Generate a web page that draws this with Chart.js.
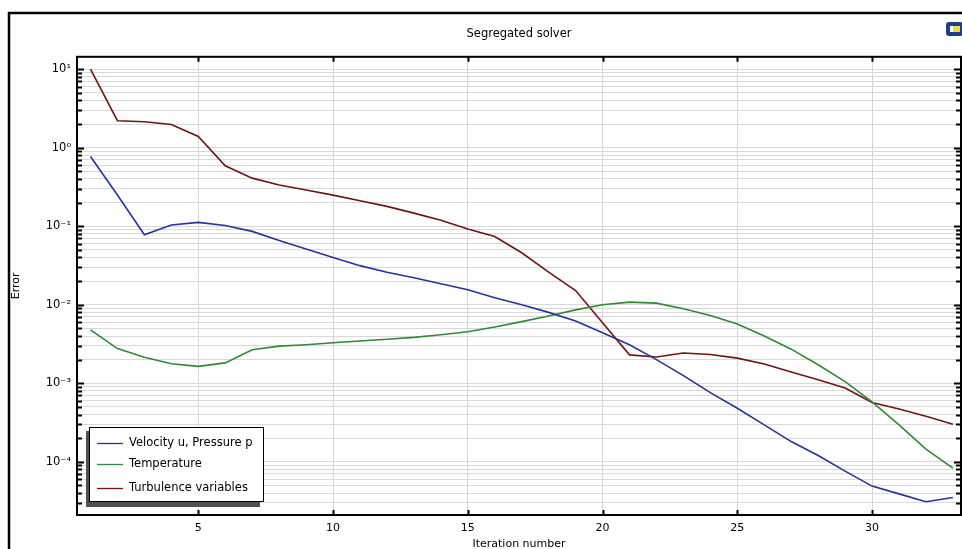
<!DOCTYPE html>
<html>
<head>
<meta charset="utf-8">
<script src="https://cdn.jsdelivr.net/npm/chart.js@4.4.1/dist/chart.umd.min.js"></script>
<style>
  html, body { margin: 0; padding: 0; background: #fff; }
  #wrap { width: 962px; height: 549px; }
</style>
</head>
<body>
<div id="wrap"><canvas id="grafico" width="962" height="549"></canvas></div>
<script>
// iteration numbers along x
const iteracoes = [1, 2, 3, 4, 5, 6, 7, 8, 9, 10, 11, 12, 13, 14, 15, 16, 17,
  18, 19, 20, 21, 22, 23, 24, 25, 26, 27, 28, 29, 30, 31, 32, 33];

// error per iteration for each field group
const velocidade = [0.775, 0.25, 0.078, 0.104, 0.112, 0.102, 0.086, 0.066, 0.0514,
  0.040, 0.0315, 0.026, 0.0221, 0.0185, 0.0155, 0.0123, 0.0100, 0.0080, 0.0062,
  0.0044, 0.0031, 0.0020, 0.00125, 0.00076, 0.00048, 0.000295, 0.000181, 0.00012,
  0.000076, 0.000049, 0.000039, 0.000031, 0.000035];
const temperatura = [0.0048, 0.00277, 0.00215, 0.00177, 0.00164, 0.00182, 0.00267,
  0.00297, 0.0031, 0.00328, 0.00345, 0.00363, 0.00384, 0.00415, 0.00453, 0.0052,
  0.0061, 0.0072, 0.0086, 0.0100, 0.0108, 0.0105, 0.0089, 0.0073, 0.0057, 0.0040,
  0.00272, 0.00172, 0.00105, 0.00058, 0.000295, 0.000145, 0.000083];
const turbulencia = [10, 2.21, 2.14, 1.98, 1.39, 0.59, 0.41, 0.335, 0.29, 0.249,
  0.211, 0.179, 0.147, 0.119, 0.092, 0.074, 0.046, 0.026, 0.0152, 0.0059, 0.0023,
  0.00216, 0.00243, 0.00233, 0.00209, 0.00176, 0.00139, 0.00111, 0.00087, 0.00057,
  0.00047, 0.00038, 0.0003];

// axis ticks
const xTicks = [5, 10, 15, 20, 25, 30];
const yDecadas = [1e-4, 1e-3, 1e-2, 1e-1, 1, 10];
const yRotulos = ["10\u207B\u2074", "10\u207B\u00B3", "10\u207B\u00B2", "10\u207B\u00B9", "10\u2070", "10\u00B9"];

const Y_MIN = 2.1e-5, Y_MAX = 14.4;
const X_MIN = 0.5, X_MAX = 33.3;

// minor ticks 2..9 inside each decade
function ticksLog() {
  const lista = [];
  for (let e = -5; e <= 1; e++) {
    for (let m = 1; m <= 9; m++) {
      const v = m * Math.pow(10, e);
      if (v >= Y_MIN && v <= Y_MAX) lista.push(v);
    }
  }
  return lista;
}

function ehDecada(v) {
  const l = Math.log10(v);
  return Math.abs(l - Math.round(l)) < 1e-9;
}

const fonte = "'DejaVu Sans', Verdana, sans-serif";

// frame, plot box, inward tick marks and legend
const moldura = {
  id: "moldura",
  beforeDraw(chart) {
    const c = chart.ctx;
    c.save();
    c.fillStyle = "#fff";
    c.fillRect(0, 0, chart.width, chart.height);
    c.restore();
  },
  afterDraw(chart) {
    const c = chart.ctx;
    const a = chart.chartArea;
    const sx = chart.scales.x, sy = chart.scales.y;
    c.save();

    // outer window frame
    c.strokeStyle = "#000";
    c.lineWidth = 2.5;
    c.strokeRect(9, 13, chart.width + 20, chart.height + 20);

    // small icon in the corner
    c.fillStyle = "#1d3c8c";
    c.beginPath();
    c.roundRect(946, 22, 17, 14, 3);
    c.fill();
    c.fillStyle = "#f2d54a";
    c.fillRect(950, 26, 10, 6);
    c.fillStyle = "#ffffff";
    c.fillRect(950, 26, 3, 6);

    // tick marks pointing into the plot
    c.strokeStyle = "#000";
    c.lineWidth = 2;
    c.beginPath();
    xTicks.forEach((v) => {
      const px = Math.round(sx.getPixelForValue(v)) + 0.5;
      c.moveTo(px, a.top); c.lineTo(px, a.top + 5);
      c.moveTo(px, a.bottom); c.lineTo(px, a.bottom - 5);
    });
    ticksLog().forEach((v) => {
      const py = Math.round(sy.getPixelForValue(v)) + 0.5;
      const len = ehDecada(v) ? 7 : 5;
      c.moveTo(a.left, py); c.lineTo(a.left + len, py);
      c.moveTo(a.right, py); c.lineTo(a.right - len, py);
    });
    c.stroke();

    // plot box
    c.lineWidth = 2;
    c.strokeRect(a.left, a.top, a.right - a.left, a.bottom - a.top);

    // legend with drop shadow
    const lx = 89, ly = 427, lw = 174, lh = 74;
    c.fillStyle = "#505050";
    c.fillRect(lx - 3, ly + 4, lw, lh + 2);
    c.fillStyle = "#fff";
    c.fillRect(lx, ly, lw, lh);
    c.strokeStyle = "#000";
    c.lineWidth = 1;
    c.strokeRect(lx + 0.5, ly + 0.5, lw, lh);
    const linhas = [16, 37, 61];
    c.font = "11.5px " + fonte;
    c.textBaseline = "middle";
    chart.data.datasets.forEach((ds, i) => {
      const y = ly + linhas[i] + 0.5;
      c.strokeStyle = ds.borderColor;
      c.lineWidth = 1.3;
      c.beginPath();
      c.moveTo(lx + 8, y); c.lineTo(lx + 34, y);
      c.stroke();
      c.fillStyle = "#000";
      c.fillText(ds.label, lx + 40, y);
    });
    c.restore();
  },
};

const pontos = (ys) => iteracoes.map((x, i) => ({ x: x, y: ys[i] }));

const ctx = document.getElementById("grafico").getContext("2d");

let grafico = new Chart(ctx, {
  type: "line",
  data: {
    datasets: [
      { label: "Velocity u, Pressure p", data: pontos(velocidade), borderColor: "#26349a" },
      { label: "Temperature", data: pontos(temperatura), borderColor: "#2f8a35" },
      { label: "Turbulence variables", data: pontos(turbulencia), borderColor: "#701414" },
    ],
  },
  options: {
    responsive: false,
    animation: false,
    layout: { padding: { left: 0, right: 1, top: 0, bottom: 0 } },
    elements: {
      point: { radius: 0 },
      line: { borderWidth: 1.6, tension: 0, fill: false },
    },
    plugins: {
      legend: { display: false },
      tooltip: { enabled: false },
      title: {
        display: true,
        fullSize: false,
        text: "Segregated solver",
        color: "#000",
        font: { family: fonte, size: 11.5, weight: "normal", lineHeight: 1.2 },
        padding: { top: 27, bottom: 16 },
      },
    },
    scales: {
      x: {
        type: "linear",
        min: X_MIN,
        max: X_MAX,
        afterBuildTicks: (s) => { s.ticks = xTicks.map((v) => ({ value: v })); },
        afterFit: (s) => { s.height = 34; },
        grid: { color: "#d6d6d6", lineWidth: 1, drawTicks: false },
        border: { display: false },
        ticks: { color: "#000", padding: 7, font: { family: fonte, size: 11 }, maxRotation: 0 },
        title: {
          display: true,
          text: "Iteration number",
          color: "#000",
          font: { family: fonte, size: 11, lineHeight: 1 },
          padding: { top: 0, bottom: -1 },
        },
      },
      y: {
        type: "logarithmic",
        min: Y_MIN,
        max: Y_MAX,
        afterBuildTicks: (s) => { s.ticks = ticksLog().map((v) => ({ value: v })); },
        afterFit: (s) => { s.width = 77; },
        grid: { color: "#d9d9d9", lineWidth: 1, drawTicks: false },
        border: { display: false },
        ticks: {
          color: "#000",
          padding: 6,
          autoSkip: false,
          font: { family: fonte, size: 11.5 },
          callback: (v) => {
            const i = yDecadas.findIndex((d) => Math.abs(d - v) / d < 1e-6);
            return i >= 0 ? yRotulos[i] : "";
          },
        },
        title: {
          display: true,
          text: "Error",
          color: "#000",
          font: { family: fonte, size: 11 },
          padding: { top: 10, bottom: 0 },
        },
      },
    },
  },
  plugins: [moldura],
});
</script>
</body>
</html>
